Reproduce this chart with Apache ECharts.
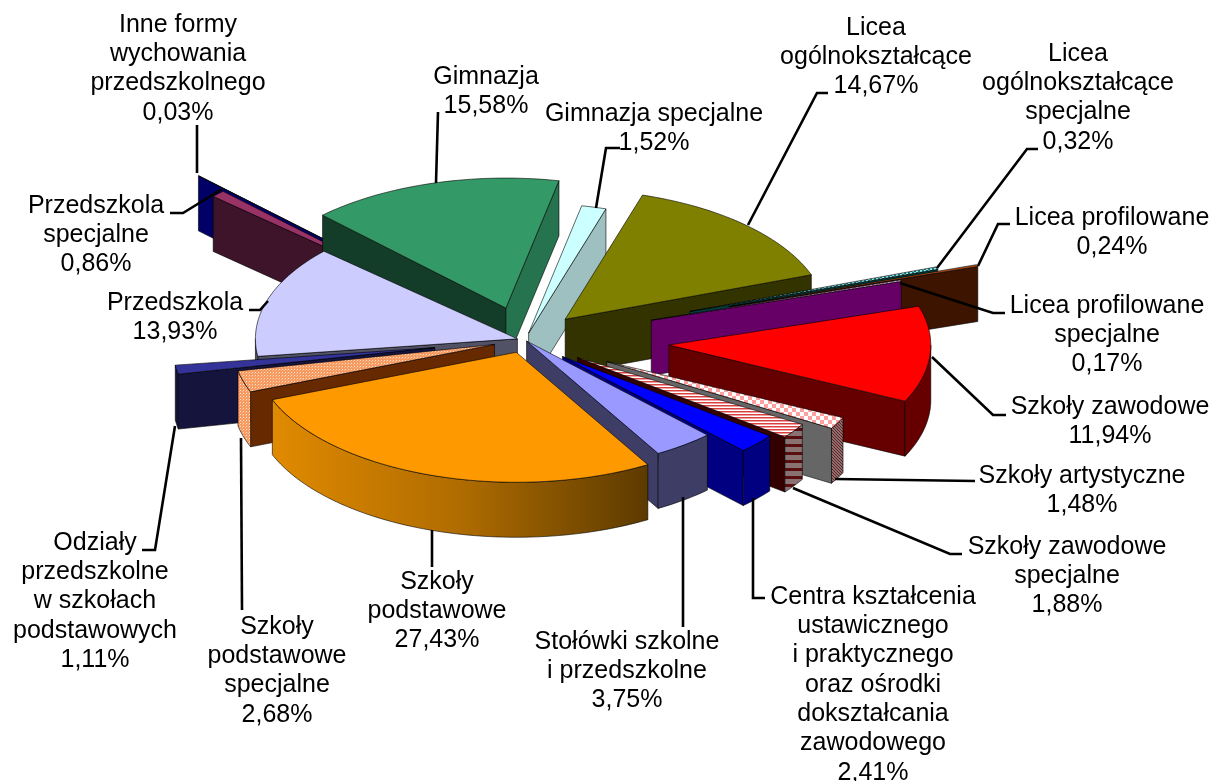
<!DOCTYPE html>
<html><head><meta charset="utf-8">
<style>html,body{margin:0;padding:0;background:#fff}#c{width:1212px;height:781px}</style>
<script src="https://cdn.jsdelivr.net/npm/echarts@6/dist/echarts.min.js"></script>
</head><body><div id="c"></div>
<script>
// ---------- data (clockwise from the top-left edge of "Gimnazja") ----------
const categories = ['Gimnazja','Gimnazja specjalne','Licea ogólnokształcące','Licea ogólnokształcące specjalne','Licea profilowane','Licea profilowane specjalne','Szkoły zawodowe','Szkoły artystyczne','Szkoły zawodowe specjalne','Centra kształcenia ustawicznego i praktycznego oraz ośrodki dokształcania zawodowego','Stołówki szkolne i przedszkolne','Szkoły podstawowe','Szkoły podstawowe specjalne','Odziały przedszkolne w szkołach podstawowych','Przedszkola','Przedszkola specjalne','Inne formy wychowania przedszkolnego'];
const values = [15.58,1.52,14.67,0.32,0.24,0.17,11.94,1.48,1.88,2.41,3.75,27.43,2.68,1.11,13.93,0.86,0.03];
const percentText = ['15,58%','1,52%','14,67%','0,32%','0,24%','0,17%','11,94%','1,48%','1,88%','2,41%','3,75%','27,43%','2,68%','1,11%','13,93%','0,86%','0,03%'];
const labelLines = [['Gimnazja'],['Gimnazja specjalne'],['Licea','ogólnokształcące'],['Licea','ogólnokształcące','specjalne'],['Licea profilowane'],['Licea profilowane','specjalne'],['Szkoły zawodowe'],['Szkoły artystyczne'],['Szkoły zawodowe','specjalne'],['Centra kształcenia','ustawicznego','i praktycznego','oraz ośrodki','dokształcania','zawodowego'],['Stołówki szkolne','i przedszkolne'],['Szkoły','podstawowe'],['Szkoły','podstawowe','specjalne'],['Odziały','przedszkolne','w szkołach','podstawowych'],['Przedszkola'],['Przedszkola','specjalne'],['Inne formy','wychowania','przedszkolnego']];
// how far each slice is pulled out of the pie (fraction of radius)
const explode = [0.256,0.055,0.22,0.66,0.81,0.50,0.544,0.35,0.24,0.19,0.01,0.10,0.12,0.345,0.03,0.62,0.77];
// painter's order, back to front
const drawOrder = [16,15,0,1,2,3,4,5,6,7,8,9,10,14,13,12,11];

// ---------- layout ----------
const cx=525, cy=340, rx=262, ry=130, depth=55, startDeg=-44.4;
const labelCenterX = [486,654,876,1078,1112,1107,1110,1082,1067,873,627,437,277,95,175,96,178];
const labelFirstY  = [77,114,28,54,218,306,407,476,547,597,642,582,627,543,303,206,25];
const lineHeight = 29.3;
const leaders = [
 [[438,112],[436,183]],
 [[620,148],[606,148],[596,208]],
 [[828,93],[817,93],[748,225]],
 [[1038,149],[1027,149],[937,268]],
 [[1010,224],[998,224],[978,266]],
 [[1005,313],[993,313],[900,283]],
 [[1006,415],[993,415],[932,357]],
 [[975,481],[835,479]],
 [[962,554],[950,554],[793,488]],
 [[765,598],[753,598],[753,498]],
 [[683,627],[683,497]],
 [[432,567],[432,530]],
 [[242,610],[241,438]],
 [[142,550],[155,550],[175,426]],
 [[249,310],[260,310],[268,301]],
 [[170,213],[183,213],[222,189]],
 [[197,125],[197,173]]
];

// ---------- fills ----------
function pat(w,h,draw){
  const c=document.createElement('canvas');c.width=w;c.height=h;
  draw(c.getContext('2d'),w,h);
  return {image:c,repeat:'repeat'};
}
const tealDots = pat(4,4,(g,w,h)=>{g.fillStyle='#a0e8e8';g.fillRect(0,0,w,h);g.fillStyle='#108080';g.fillRect(0,0,2,2);g.fillRect(2,2,2,2);});
const pinkDots = pat(4,4,(g,w,h)=>{g.fillStyle='#fff';g.fillRect(0,0,w,h);g.fillStyle='#ff80ff';g.fillRect(0,0,2,2);g.fillRect(2,2,2,2);});
const pinkCheck = pat(8,8,(g,w,h)=>{g.fillStyle='#fff';g.fillRect(0,0,w,h);g.fillStyle='#ffa0a0';g.fillRect(0,0,4,4);g.fillRect(4,4,4,4);});
const redStripes = pat(3,3,(g,w,h)=>{g.fillStyle='#fff';g.fillRect(0,0,w,h);g.fillStyle='#d84040';g.fillRect(0,0,3,1);g.fillStyle='#f0a0a0';g.fillRect(0,1,3,1);});
const peachDots = pat(3,3,(g,w,h)=>{g.fillStyle='#f79a62';g.fillRect(0,0,w,h);g.fillStyle='#ffe0c8';g.fillRect(0,0,1,1);g.fillStyle='#ffb888';g.fillRect(2,1,1,1);});
const hatchGrey = pat(3,3,(g,w,h)=>{g.fillStyle='#8a7070';g.fillRect(0,0,w,h);g.fillStyle='#6b1f1f';g.fillRect(0,0,1,1);g.fillRect(1,1,1,1);g.fillRect(2,2,1,1);});
const hatchBars = pat(5,8,(g,w,h)=>{g.fillStyle='#8a7272';g.fillRect(0,0,w,h);g.fillStyle='#5a0f0f';g.fillRect(0,4,5,3);});
const podstWall = new echarts.graphic.LinearGradient(0,0,1,0,[{offset:0,color:'#e08a00'},{offset:0.5,color:'#b06c00'},{offset:1,color:'#5c3a00'}]);
const topFill   = ['#339966','#ccffff','#808000',tealDots,'#b04a10',pinkDots,'#ff0000',pinkCheck,redStripes,'#0000ff','#9999ff','#ff9900',peachDots,'#333399','#ccccff','#993366','#000080'];
const faceFill  = ['#143d29','#9fc0c0','#333300','#003f3f','#3d1400','#660066','#660000','#666666','#330000','#000080','#3d3d66','#663d00','#662900','#14143d','#525266','#3d1429','#000066'];
const endFill   = ['#267350','#9fc0c0','#333300','#003f3f','#3d1400','#660066','#660000','#666666','#330000','#000080','#3d3d66','#663d00','#662900','#14143d','#525266','#3d1429','#000066'];
const wallFill  = ['#267350','#9fc0c0','#333300','#003f3f','#3d1400','#660066','#660000',hatchGrey,hatchBars,'#000080','#3d3d66',podstWall,peachDots,'#14143d','#525266','#3d1429','#000066'];

// ---------- geometry from values ----------
const total = values.reduce((a,b)=>a+b,0);
let acc=0;
const spans = values.map(v=>{const a=startDeg+acc/total*360;acc+=v;return [a,startDeg+acc/total*360];});
const rad = d=>d*Math.PI/180;
function renderItem(params,api){
  const i=api.value(0);
  const [a,b]=spans[i];
  const mid=rad((a+b)/2);
  const ox=cx+265*explode[i]*Math.sin(mid), oy=cy-ry*explode[i]*Math.cos(mid);
  const pt=(d,dz)=>[ox+rx*Math.sin(rad(d)), oy-ry*Math.cos(rad(d))+dz];
  const arc=(from,to,dz)=>{const n=Math.max(2,Math.ceil((to-from)/1.5)),p=[];for(let k=0;k<=n;k++)p.push(pt(from+(to-from)*k/n,dz));return p;};
  const stroke={stroke:'rgba(0,0,0,0.85)',lineWidth:0.7};
  const poly=(points,fill)=>({type:'polygon',shape:{points},style:Object.assign({fill},stroke)});
  const children=[];
  const apex=[ox,oy],apexB=[ox,oy+depth];
  if(Math.sin(rad(a))<0) children.push(poly([apex,pt(a,0),pt(a,depth),apexB],faceFill[i]));
  if(Math.sin(rad(b))>0) children.push(poly([apex,pt(b,0),pt(b,depth),apexB],endFill[i]));
  const lo=Math.max(a,90),hi=Math.min(b,270);
  if(lo<hi) children.push(poly(arc(lo,hi,0).concat(arc(lo,hi,depth).reverse()),wallFill[i]));
  children.push(poly([apex].concat(arc(a,b,0)),topFill[i]));
  return {type:'group',children};
}

const chart=echarts.init(document.getElementById('c'),null,{renderer:'canvas'});
const graphics=[];
leaders.forEach(p=>graphics.push({type:'polyline',z:10,silent:true,shape:{points:p},style:{stroke:'#000',lineWidth:2.6,fill:null}}));
categories.forEach((name,i)=>{
  graphics.push({type:'text',z:11,silent:true,x:labelCenterX[i],y:labelFirstY[i]-lineHeight/2,
    style:{text:labelLines[i].concat(percentText[i]).join('\n'),fill:'#000',align:'center',verticalAlign:'top',
      font:'25px "Liberation Sans", Arial, sans-serif',lineHeight:lineHeight}});
});
chart.setOption({
  animation:false,
  backgroundColor:'#fff',
  series:[{type:'custom',coordinateSystem:'none',silent:true,renderItem,
    dimensions:['index','value'],
    data:drawOrder.map(i=>[i,values[i]])}],
  graphic:graphics
});
</script></body></html>
